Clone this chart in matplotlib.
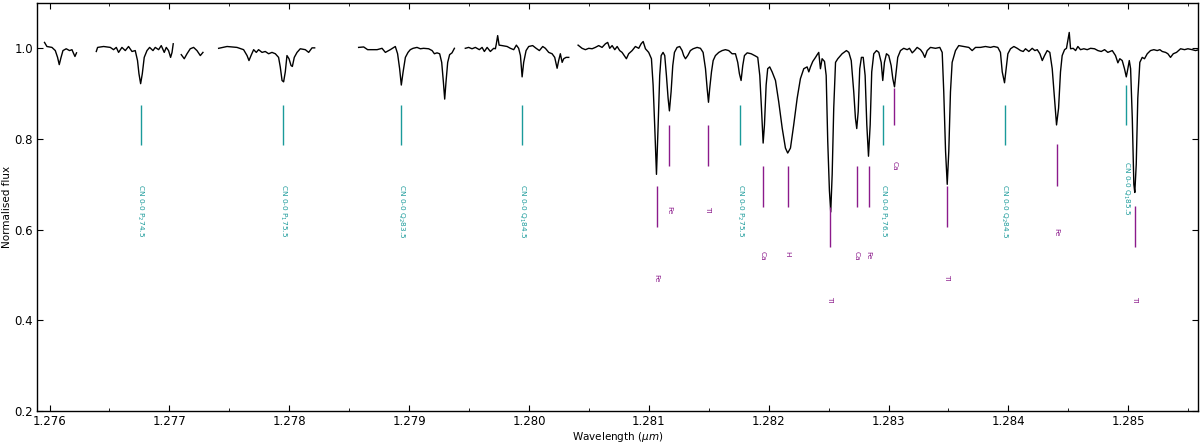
import numpy as np
import matplotlib
matplotlib.use("Agg")
import matplotlib.pyplot as plt
from matplotlib.ticker import MultipleLocator, FormatStrFormatter

# ---------------- spectrum (wavelength in micron, normalised flux) ----------------
wave_1 = [1.275958, 1.275978, 1.276020, 1.276048, 1.276067, 1.276081, 1.276095, 1.276112,
          1.276139, 1.276167, 1.276187, 1.276200, 1.276212, 1.276225]
flux_1 = [1.013, 1.004, 1.002, 0.995, 0.980, 0.964, 0.979, 0.995,
          0.999, 0.995, 0.997, 0.989, 0.982, 0.990]

wave_2 = [1.276390, 1.276401, 1.276451, 1.276507, 1.276534, 1.276557, 1.276576, 1.276604,
          1.276632, 1.276659, 1.276688, 1.276715, 1.276734, 1.276746, 1.276760, 1.276774,
          1.276790, 1.276813, 1.276835, 1.276863, 1.276882, 1.276910, 1.276932, 1.276957,
          1.276974, 1.276993, 1.277010, 1.277022, 1.277032]
flux_2 = [0.993, 1.002, 1.004, 1.002, 0.997, 1.002, 0.991, 1.002,
          0.995, 1.004, 0.993, 0.995, 0.973, 0.944, 0.922, 0.944,
          0.980, 0.995, 1.002, 0.995, 1.002, 0.997, 1.006, 0.991,
          1.002, 0.995, 0.980, 0.991, 1.010]

wave_3 = [1.277099, 1.277124, 1.277147, 1.277174, 1.277202, 1.277230, 1.277258, 1.277280]
flux_3 = [0.986, 0.977, 0.988, 0.999, 1.002, 0.995, 0.984, 0.991]

wave_4 = [1.277411, 1.277481, 1.277564, 1.277619, 1.277648, 1.277664, 1.277681, 1.277703,
          1.277725, 1.277744, 1.277773, 1.277800, 1.277828, 1.277856, 1.277884, 1.277911,
          1.277925, 1.277940, 1.277953, 1.277967, 1.277981, 1.277998, 1.278015, 1.278026,
          1.278042, 1.278065, 1.278092, 1.278134, 1.278162, 1.278190, 1.278212]
flux_4 = [1.000, 1.004, 1.002, 0.997, 0.984, 0.973, 0.984, 0.997,
          0.991, 0.997, 0.991, 0.993, 0.988, 0.991, 0.988, 0.980,
          0.959, 0.929, 0.926, 0.948, 0.984, 0.977, 0.962, 0.960,
          0.980, 0.991, 0.999, 0.997, 0.991, 1.001, 1.001]

wave_5 = [1.278579, 1.278621, 1.278654, 1.278691, 1.278733, 1.278774, 1.278802, 1.278843,
          1.278885, 1.278904, 1.278921, 1.278935, 1.278950, 1.278969, 1.278991, 1.279010,
          1.279033, 1.279066, 1.279094, 1.279121, 1.279163, 1.279192, 1.279211, 1.279233,
          1.279255, 1.279272, 1.279286, 1.279297, 1.279308, 1.279322, 1.279338, 1.279358,
          1.279378]
flux_5 = [1.002, 1.003, 0.997, 0.997, 0.997, 1.000, 0.991, 0.997,
          1.004, 0.988, 0.955, 0.919, 0.948, 0.980, 0.991, 0.997,
          1.000, 1.002, 0.999, 1.000, 0.999, 0.995, 0.988, 0.990,
          0.988, 0.969, 0.926, 0.888, 0.926, 0.969, 0.986, 0.990,
          1.000]

wave_6 = [1.279469, 1.279497, 1.279525, 1.279553, 1.279586, 1.279609, 1.279628, 1.279651,
          1.279678, 1.279706, 1.279720, 1.279728, 1.279739, 1.279751, 1.279776, 1.279818,
          1.279845, 1.279873, 1.279895, 1.279914, 1.279929, 1.279943, 1.279956, 1.279976,
          1.279998, 1.280031, 1.280060, 1.280087, 1.280115, 1.280137, 1.280165, 1.280193,
          1.280215, 1.280235, 1.280248, 1.280262, 1.280277, 1.280290, 1.280310, 1.280332]
flux_6 = [1.000, 1.002, 0.999, 1.002, 0.997, 1.002, 0.993, 1.002,
          0.993, 1.000, 0.999, 1.010, 1.028, 1.007, 1.006, 1.004,
          1.000, 0.997, 1.007, 1.000, 0.984, 0.937, 0.969, 0.995,
          1.004, 1.006, 1.000, 0.995, 1.004, 1.000, 0.991, 0.988,
          0.980, 0.956, 0.973, 0.988, 0.969, 0.977, 0.980, 0.980]

wave_7 = [1.280410, 1.280443, 1.280471, 1.280499, 1.280527, 1.280554, 1.280582, 1.280610,
          1.280638, 1.280657, 1.280674, 1.280694, 1.280716, 1.280736, 1.280757, 1.280777,
          1.280813, 1.280832, 1.280861, 1.280888, 1.280916, 1.280936, 1.280953, 1.280972,
          1.280999, 1.281022, 1.281036, 1.281049, 1.281064, 1.281078, 1.281091, 1.281103,
          1.281119, 1.281133, 1.281147, 1.281161, 1.281172, 1.281186, 1.281200, 1.281214,
          1.281236, 1.281258, 1.281278, 1.281291, 1.281306, 1.281325, 1.281347, 1.281370,
          1.281403, 1.281431, 1.281453, 1.281473, 1.281487, 1.281498, 1.281508, 1.281523,
          1.281537, 1.281556, 1.281584, 1.281612, 1.281639, 1.281667, 1.281695, 1.281723,
          1.281742, 1.281756, 1.281770, 1.281784, 1.281798, 1.281821, 1.281854, 1.281890,
          1.281909, 1.281926, 1.281940, 1.281954, 1.281965, 1.281979, 1.281992, 1.282009,
          1.282029, 1.282057, 1.282084, 1.282113, 1.282140, 1.282159, 1.282182, 1.282209,
          1.282238, 1.282265, 1.282293, 1.282321, 1.282335, 1.282349, 1.282368, 1.282391,
          1.282405, 1.282418, 1.282432, 1.282446, 1.282466, 1.282480, 1.282493, 1.282507,
          1.282518, 1.282530, 1.282543, 1.282558, 1.282577, 1.282613, 1.282649, 1.282669,
          1.282689, 1.282710, 1.282724, 1.282735, 1.282747, 1.282760, 1.282774, 1.282789,
          1.282805, 1.282819, 1.282833, 1.282847, 1.282860, 1.282877, 1.282900, 1.282919,
          1.282939, 1.282952, 1.282966, 1.282983, 1.283002, 1.283022, 1.283036, 1.283050,
          1.283064, 1.283077, 1.283100, 1.283127, 1.283156, 1.283175, 1.283198, 1.283217,
          1.283239, 1.283267, 1.283286, 1.283303, 1.283323, 1.283350, 1.283392, 1.283428,
          1.283448, 1.283461, 1.283476, 1.283490, 1.283503, 1.283517, 1.283531, 1.283559,
          1.283586, 1.283628, 1.283670, 1.283698, 1.283726, 1.283767, 1.283809, 1.283851,
          1.283879, 1.283912, 1.283934, 1.283949, 1.283968, 1.283982, 1.283996, 1.284018,
          1.284046, 1.284074, 1.284102, 1.284124, 1.284143, 1.284171, 1.284199, 1.284221,
          1.284241, 1.284263, 1.284283, 1.284302, 1.284324, 1.284346, 1.284366, 1.284385,
          1.284402, 1.284419, 1.284435, 1.284449, 1.284469, 1.284485, 1.284496, 1.284508,
          1.284519, 1.284541, 1.284561, 1.284580, 1.284602, 1.284630, 1.284658, 1.284686,
          1.284719, 1.284747, 1.284775, 1.284803, 1.284830, 1.284867, 1.284894, 1.284914,
          1.284930, 1.284950, 1.284969, 1.284984, 1.284997, 1.285009, 1.285020, 1.285034,
          1.285047, 1.285055, 1.285067, 1.285080, 1.285097, 1.285117, 1.285136, 1.285159,
          1.285186, 1.285214, 1.285242, 1.285264, 1.285284, 1.285312, 1.285331, 1.285353,
          1.285376, 1.285403, 1.285437, 1.285470, 1.285498, 1.285534, 1.285562, 1.285590]
flux_7 = [1.007, 1.000, 0.997, 1.000, 0.999, 1.002, 1.006, 1.002,
          1.010, 1.013, 1.000, 1.006, 0.997, 1.004, 0.995, 0.991,
          0.977, 0.988, 0.995, 1.004, 1.000, 1.010, 1.015, 0.999,
          0.991, 0.977, 0.919, 0.831, 0.722, 0.831, 0.940, 0.984,
          0.991, 0.984, 0.940, 0.890, 0.862, 0.904, 0.962, 0.991,
          1.002, 1.004, 0.995, 0.984, 0.977, 0.984, 0.995, 0.999,
          1.002, 1.000, 0.991, 0.955, 0.911, 0.881, 0.911, 0.948,
          0.973, 0.984, 0.991, 0.995, 0.997, 0.995, 0.988, 0.988,
          0.969, 0.944, 0.929, 0.962, 0.984, 0.990, 0.988, 0.983,
          0.980, 0.940, 0.868, 0.791, 0.831, 0.919, 0.955, 0.959,
          0.948, 0.929, 0.882, 0.824, 0.780, 0.769, 0.780, 0.831,
          0.890, 0.933, 0.955, 0.959, 0.948, 0.959, 0.971, 0.980,
          0.986, 0.991, 0.955, 0.977, 0.971, 0.940, 0.795, 0.686,
          0.639, 0.722, 0.868, 0.969, 0.977, 0.988, 0.995, 0.991,
          0.973, 0.904, 0.846, 0.823, 0.860, 0.955, 0.980, 0.980,
          0.940, 0.831, 0.762, 0.831, 0.948, 0.988, 0.995, 0.991,
          0.969, 0.929, 0.969, 0.988, 0.984, 0.962, 0.933, 0.915,
          0.948, 0.980, 0.995, 1.000, 0.997, 1.000, 0.990, 0.995,
          1.002, 0.997, 0.990, 0.980, 0.995, 1.002, 1.000, 1.002,
          0.991, 0.904, 0.773, 0.700, 0.773, 0.904, 0.969, 0.995,
          1.006, 1.004, 1.002, 0.995, 1.002, 1.002, 1.004, 1.002,
          1.004, 1.002, 0.991, 0.948, 0.924, 0.955, 0.988, 0.999,
          1.004, 1.000, 0.995, 0.993, 0.999, 0.993, 1.000, 0.995,
          0.997, 0.988, 0.973, 0.984, 0.995, 0.991, 0.955, 0.890,
          0.831, 0.868, 0.948, 0.984, 0.997, 1.000, 1.017, 1.035,
          0.999, 1.000, 0.995, 1.004, 0.997, 0.999, 0.997, 1.000,
          0.999, 0.995, 0.993, 0.997, 0.991, 0.995, 0.984, 0.968,
          0.977, 0.973, 0.955, 0.937, 0.955, 0.973, 0.955, 0.846,
          0.700, 0.682, 0.744, 0.890, 0.969, 0.980, 0.977, 0.988,
          0.995, 0.997, 0.995, 0.997, 0.993, 0.991, 0.988, 0.980,
          0.988, 0.991, 0.999, 0.997, 0.999, 0.997, 0.995, 0.997]

segments = [(wave_1, flux_1), (wave_2, flux_2), (wave_3, flux_3), (wave_4, flux_4),
            (wave_5, flux_5), (wave_6, flux_6), (wave_7, flux_7)]

# ---------------- CN line identifications ----------------
cn_wave = [1.276759, 1.277950, 1.278933, 1.279943, 1.281765, 1.282956, 1.283968, 1.284984]
cn_label = ['CN 0-0 P$_2$74.5', 'CN 0-0 P$_1$75.5', 'CN 0-0 Q$_2$83.5', 'CN 0-0 Q$_1$84.5',
            'CN 0-0 P$_2$75.5', 'CN 0-0 P$_1$76.5', 'CN 0-0 Q$_2$84.5', 'CN 0-0 Q$_1$85.5']
cn_top = [0.875, 0.875, 0.875, 0.875, 0.875, 0.875, 0.875, 0.920]
cn_bottom = [0.786, 0.786, 0.786, 0.786, 0.786, 0.786, 0.786, 0.831]
cn_text_y = [0.700, 0.700, 0.700, 0.700, 0.700, 0.700, 0.700, 0.751]

# ---------------- atomic line identifications ----------------
atom_wave = [1.281066, 1.281172, 1.281495, 1.281952, 1.282159, 1.282516,
             1.282738, 1.282835, 1.283050, 1.283492, 1.284402, 1.285053]
atom_label = ['Fe', 'Fe', 'Ti', 'Ca', 'H', 'Ti', 'Ca', 'Fe', 'Ca', 'Ti', 'Fe', 'Ti']
atom_top = [0.697, 0.831, 0.831, 0.740, 0.740, 0.650, 0.740, 0.740, 0.913, 0.697, 0.788, 0.653]
atom_bottom = [0.606, 0.740, 0.740, 0.651, 0.651, 0.562, 0.651, 0.651, 0.830, 0.606, 0.697, 0.562]
atom_text_y = [0.502, 0.652, 0.652, 0.552, 0.552, 0.454, 0.552, 0.552, 0.751, 0.502, 0.604, 0.454]

CN_COLOR = '#1a9a9a'
ATOM_COLOR = '#8b1a8b'

plt.rcParams['font.family'] = ['DejaVu Sans']
plt.rcParams['mathtext.fontset'] = 'dejavusans'

fig = plt.figure(figsize=(12, 4.44), dpi=100)
ax = fig.add_axes([0.031, 0.0743, 0.967, 0.919])

for w, f in segments:
    ax.plot(w, f, color='black', lw=1.0)

ax.vlines(cn_wave, cn_bottom, cn_top, color=CN_COLOR, lw=1.0)
for w, t, lab in zip(cn_wave, cn_text_y, cn_label):
    ax.text(w, t, lab, rotation=270, ha='center', va='top', fontsize=5.3, color=CN_COLOR)

ax.vlines(atom_wave, atom_bottom, atom_top, color=ATOM_COLOR, lw=1.0)
for w, t, lab in zip(atom_wave, atom_text_y, atom_label):
    ax.text(w, t, lab, rotation=270, ha='center', va='top', fontsize=5.3, color=ATOM_COLOR)

ax.set_xlim(1.275897, 1.285579)
ax.set_ylim(0.2, 1.1)
ax.xaxis.set_major_locator(MultipleLocator(0.001))
ax.xaxis.set_minor_locator(MultipleLocator(0.0005))
ax.xaxis.set_major_formatter(FormatStrFormatter('%.3f'))
ax.yaxis.set_major_locator(MultipleLocator(0.2))
ax.yaxis.set_major_formatter(FormatStrFormatter('%.1f'))
ax.tick_params(which='both', direction='in', top=True, right=True, labelsize=8.5, pad=3)
ax.tick_params(which='major', length=4, width=0.8)
ax.tick_params(which='minor', length=2, width=0.6)
for s in ax.spines.values():
    s.set_linewidth(1.0)

ax.set_xlabel(r'Wavelength ($\mu m$)', fontsize=7.5, labelpad=1)
ax.set_ylabel('Normalised flux', fontsize=7.5, labelpad=2)

fig.savefig('out.png', dpi=100)
